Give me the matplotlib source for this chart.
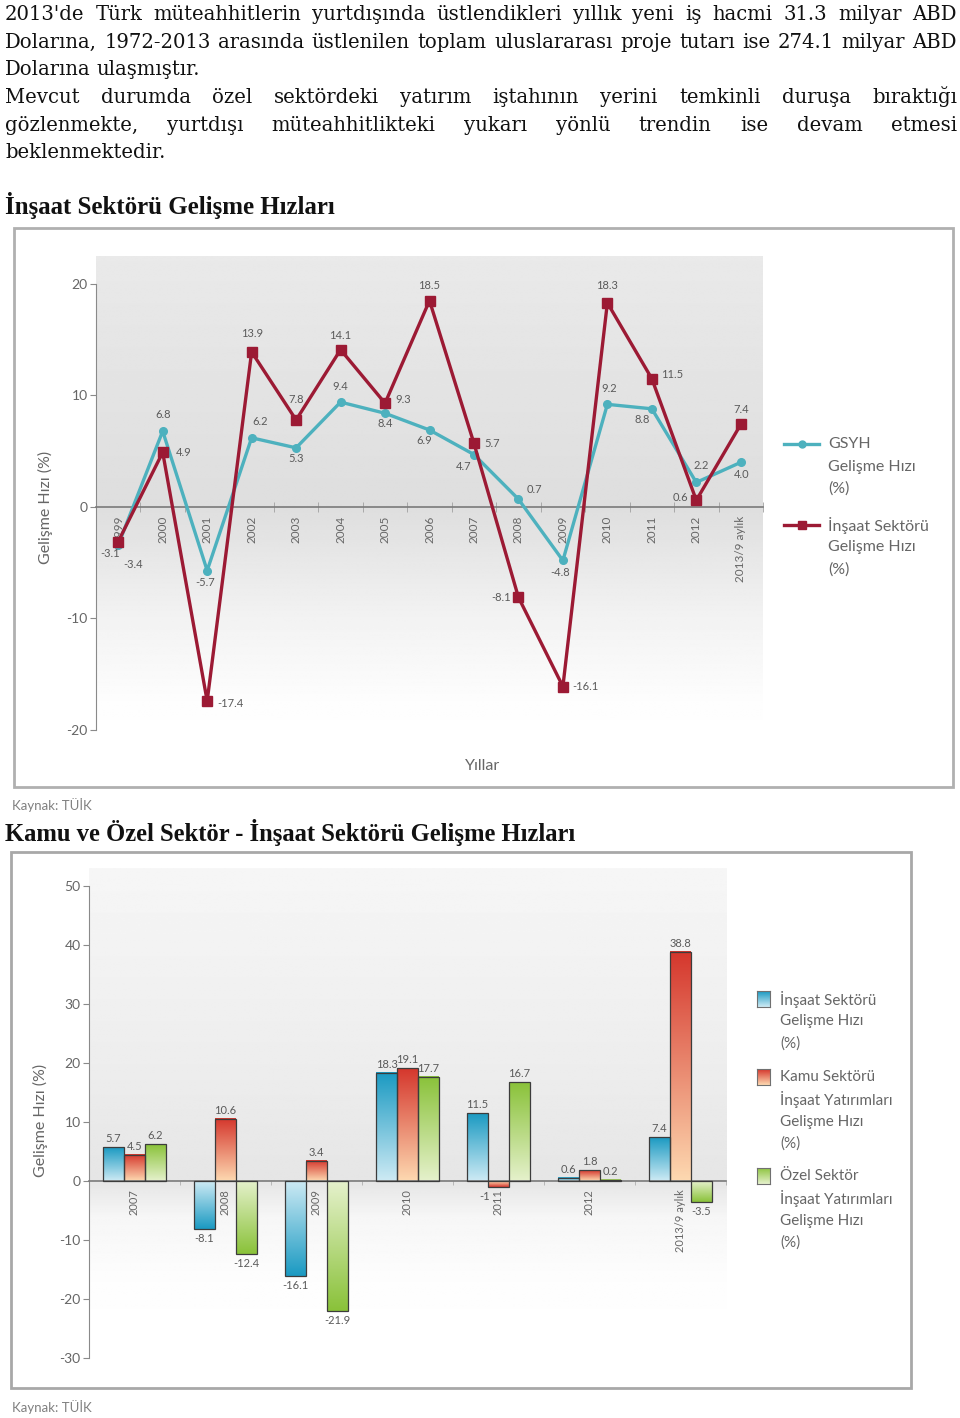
import numpy as np
import matplotlib
matplotlib.use('Agg')
import matplotlib.pyplot as plt
from matplotlib.patches import Rectangle
from matplotlib.lines import Line2D
from matplotlib.colors import to_rgb

plt.rcParams['axes.unicode_minus'] = False

# page size in pixels
W, H = 960, 1418

# chart 1 data
years1 = ['1999', '2000', '2001', '2002', '2003', '2004', '2005', '2006',
          '2007', '2008', '2009', '2010', '2011', '2012', '2013/9 aylık']
gsyh = [-3.4, 6.8, -5.7, 6.2, 5.3, 9.4, 8.4, 6.9, 4.7, 0.7, -4.8, 9.2, 8.8, 2.2, 4.0]
insaat = [-3.1, 4.9, -17.4, 13.9, 7.8, 14.1, 9.3, 18.5, 5.7, -8.1, -16.1, 18.3, 11.5, 0.6, 7.4]

# chart 2 data
years2 = ['2007', '2008', '2009', '2010', '2011', '2012', '2013/9 aylık']
insaat2 = [5.7, -8.1, -16.1, 18.3, 11.5, 0.6, 7.4]
kamu = [4.5, 10.6, 3.4, 19.1, -1, 1.8, 38.8]
ozel = [6.2, -12.4, -21.9, 17.7, 16.7, 0.2, -3.5]

# label offsets (pixels) for the line chart
gsyh_off = [(15, -20), (0, 17), (-2, -12), (8, 16), (0, -11), (0, 16), (0, -10),
            (-5, -11), (-10, -12), (16, 10), (-3, -12), (2, 16), (-10, -11), (5, 17), (1, -12)]
ins_off = [(-8, -12), (21, 0), (23, -2), (0, 18), (0, 20), (0, 14), (18, 4),
           (0, 15), (18, 0), (-17, 0), (23, 0), (0, 17), (20, 4), (-16, 3), (0, 15)]

para1 = ["2013'de Türk müteahhitlerin yurtdışında üstlendikleri yıllık yeni iş hacmi 31.3 milyar ABD",
         "Dolarına, 1972-2013 arasında üstlenilen toplam uluslararası proje tutarı ise 274.1 milyar ABD",
         "Dolarına ulaşmıştır."]
para2 = ["Mevcut durumda özel sektördeki yatırım iştahının yerini temkinli duruşa bıraktığı",
         "gözlenmekte, yurtdışı müteahhitlikteki yukarı yönlü trendin ise devam etmesi",
         "beklenmektedir."]
head1 = 'İnşaat Sektörü Gelişme Hızları'
head2 = 'Kamu ve Özel Sektör - İnşaat Sektörü Gelişme Hızları'

SERIF = 'DejaVu Serif'
HEAD = 'Liberation Serif'
SANS = ['Lato', 'DejaVu Sans']
TXT = '#5a5a5a'


def fx(px):
    return px / W


def fy(py):
    return 1 - py / H


def box(l, t, r, b):
    return [l / W, 1 - b / H, (r - l) / W, (b - t) / H]


fig = plt.figure(figsize=(W / 100, H / 100), dpi=100)
fig.patch.set_facecolor('white')
renderer = fig.canvas.get_renderer()


def fit_size(text, size, target, family=SERIF, **kw):
    probe = fig.text(0, 0, text, fontsize=size, family=family, **kw)
    w = probe.get_window_extent(renderer).width
    probe.remove()
    return size * target / w


# ---------- body text, justified ----------
body_size = min(15.5, fit_size(max(para1 + para2, key=len), 15.5, 940))


def put_line(line, ybase, justify, x0=5, x1=957):
    words = line.split(' ')
    items = [fig.text(0, fy(ybase), w, fontsize=body_size, family=SERIF,
                      va='baseline', ha='left', color='#111111') for w in words]
    widths = [t.get_window_extent(renderer).width for t in items]
    if justify and len(items) > 1:
        gap = (x1 - x0 - sum(widths)) / (len(items) - 1)
    else:
        gap = body_size * 100 / 72 * 0.3
    x = x0
    for t, w in zip(items, widths):
        t.set_x(fx(x))
        x += w + gap


baselines = [20, 48, 75, 103, 131, 158]
for i, line in enumerate(para1 + para2):
    put_line(line, baselines[i], justify=(i not in (2, 5)))

h1 = fit_size(head1, 15, 330, family=HEAD, weight='bold')
fig.text(fx(5), fy(214), head1, fontsize=h1, family=HEAD, weight='bold',
         va='baseline', color='#111111')
h2 = fit_size(head2, 15, 573, family=HEAD, weight='bold')
fig.text(fx(5), fy(841), head2, fontsize=h2, family=HEAD, weight='bold',
         va='baseline', color='#111111')

# frames
fig.add_artist(Rectangle((fx(14), fy(787)), (953 - 14) / W, (787 - 228) / H,
                         transform=fig.transFigure, fill=False, edgecolor='#b0b0b0', lw=2))
fig.add_artist(Rectangle((fx(11), fy(1388)), (911 - 11) / W, (1388 - 852) / H,
                         transform=fig.transFigure, fill=False, edgecolor='#a8a8a8', lw=2))


def background(ax, ys, levels):
    y0, y1 = ax.get_ylim()
    x0, x1 = ax.get_xlim()
    yy = np.linspace(y0, y1, 300)
    g = np.interp(yy, ys, levels)
    img = np.repeat(g[:, None], 2, axis=1)
    ax.imshow(img, extent=(x0, x1, y0, y1), origin='lower', aspect='auto',
              cmap='gray', vmin=0, vmax=1, interpolation='bilinear', zorder=0)
    ax.set_xlim(x0, x1)
    ax.set_ylim(y0, y1)


def style_axes(ax, ybounds, xlabels, xsize):
    for s in ['top', 'right']:
        ax.spines[s].set_visible(False)
    ax.spines['left'].set_color('#8a8a8a')
    ax.spines['left'].set_bounds(*ybounds)
    ax.spines['bottom'].set_position(('data', 0))
    ax.spines['bottom'].set_color('#7a7a7a')
    ax.spines['bottom'].set_linewidth(1.2)
    n = len(xlabels)
    ax.set_xticks(range(n))
    ax.set_xticklabels(xlabels, rotation=90, fontsize=xsize, color='#666666', family=SANS)
    ax.set_xticks(np.arange(0.5, n, 1), minor=True)
    ax.tick_params(axis='x', which='major', length=0, pad=6)
    ax.tick_params(axis='x', which='minor', length=7, direction='inout', color='#a0a0a0')
    ax.tick_params(axis='y', length=4, color='#8a8a8a', labelsize=10, labelcolor='#666666', pad=2)
    for t in ax.get_yticklabels():
        t.set_family(SANS)
    ax.set_facecolor('white')


# ---------- chart 1: line chart ----------
ax1 = fig.add_axes(box(96, 256, 763, 763.5))
ax1.set_xlim(-0.5, len(years1) - 0.5)
ax1.set_ylim(-23, 22.5)
background(ax1, [-23, -18, -10, 0, 22.5], [1.0, 0.995, 0.95, 0.87, 0.915])
x1 = np.arange(len(years1))
ax1.plot(x1, gsyh, color='#4db1be', lw=2.4, marker='o', ms=5.5, zorder=3)
ax1.plot(x1, insaat, color='#9c1a34', lw=2.4, marker='s', ms=6.5, zorder=4)
for i, v in enumerate(gsyh):
    ax1.annotate(f'{v:.1f}', (i, v), xytext=gsyh_off[i], textcoords='offset pixels',
                 ha='center', va='center', fontsize=8, color=TXT, family=SANS, zorder=5)
for i, v in enumerate(insaat):
    ax1.annotate(f'{v:.1f}', (i, v), xytext=ins_off[i], textcoords='offset pixels',
                 ha='center', va='center', fontsize=8, color=TXT, family=SANS, zorder=5)
ax1.set_yticks([-20, -10, 0, 10, 20])
style_axes(ax1, (-20, 20), years1, 8.5)

fig.text(fx(45), fy(507), 'Gelişme Hızı (%)', rotation=90, ha='center', va='center',
         fontsize=11.5, color='#666666', family=SANS)
fig.text(fx(483), fy(766), 'Yıllar', ha='center', va='center', fontsize=11.5,
         color='#666666', family=SANS)
fig.text(fx(12), fy(805), 'Kaynak: TÜİK', ha='left', va='center', fontsize=9.5,
         color='#808080', family=SANS)

# legend for chart 1
leg1 = [('#4db1be', 'o', 5, ['GSYH', 'Gelişme Hızı', '(%)'], 444),
        ('#9c1a34', 's', 5.5, ['İnşaat Sektörü', 'Gelişme Hızı', '(%)'], 525)]
for col, mk, ms, lines, ytop in leg1:
    fig.add_artist(Line2D([fx(784), fx(819)], [fy(ytop), fy(ytop)], transform=fig.transFigure,
                          color=col, lw=2.4))
    fig.add_artist(Line2D([fx(801.5)], [fy(ytop)], transform=fig.transFigure,
                          color=col, marker=mk, ms=ms))
    for k, s in enumerate(lines):
        fig.text(fx(828), fy(ytop + k * 22.5), s, ha='left', va='center', fontsize=11.5,
                 color='#666666', family=SANS)

# ---------- chart 2: grouped bars ----------
ax2 = fig.add_axes(box(89, 868, 726, 1382))
ax2.set_xlim(-0.5, len(years2) - 0.5)
ax2.set_ylim(-34, 53)
background(ax2, [-34, -18, -6, 0, 20, 53], [1.0, 0.995, 0.965, 0.9, 0.93, 0.965])

series = [(insaat2, '#1b9ac2', '#cdeaf4'),
          (kamu, '#d5372d', '#fdd8b0'),
          (ozel, '#8ac23a', '#e5f1cb')]
bw = 0.23
x2 = np.arange(len(years2))
lbl_over = {(1, 4): (-14, -4)}
for si, (vals, dark, light) in enumerate(series):
    bars = ax2.bar(x2 + (si - 1) * bw, vals, bw, color='none', edgecolor='#3c3c3c',
                   lw=0.9, zorder=3)
    cd, cl = np.array(to_rgb(dark)), np.array(to_rgb(light))
    for i, r in enumerate(bars.patches):
        bx, by, bwid, bh = r.get_x(), r.get_y(), r.get_width(), r.get_height()
        t = np.linspace(0, 1, 64)
        if vals[i] < 0:
            t = t[::-1]
        grad = cl[None, :] * (1 - t[:, None]) + cd[None, :] * t[:, None]
        y_lo, y_hi = min(by, by + bh), max(by, by + bh)
        ax2.imshow(grad[:, None, :], extent=(bx, bx + bwid, y_lo, y_hi), origin='lower',
                   aspect='auto', interpolation='bilinear', zorder=2)
        v = vals[i]
        dx, dy = lbl_over.get((si, i), (0, 3 if v >= 0 else -4))
        ax2.annotate(f'{v:g}', (r.get_x() + bwid / 2, v), xytext=(dx, dy),
                     textcoords='offset pixels', ha='center',
                     va='bottom' if v >= 0 else 'top', fontsize=8, color=TXT,
                     family=SANS, zorder=5)
ax2.set_xlim(-0.5, len(years2) - 0.5)
ax2.set_ylim(-34, 53)
ax2.set_yticks(range(-30, 51, 10))
style_axes(ax2, (-30, 50), years2, 8)
ax2.tick_params(axis='x', which='minor', length=3, direction='out', color='#b0b0b0')

fig.text(fx(40), fy(1120), 'Gelişme Hızı (%)', rotation=90, ha='center', va='center',
         fontsize=11.5, color='#666666', family=SANS)
fig.text(fx(12), fy(1407), 'Kaynak: TÜİK', ha='left', va='center', fontsize=9.5,
         color='#808080', family=SANS)

# legend for chart 2
leg2 = [(series[0], ['İnşaat Sektörü', 'Gelişme Hızı', '(%)'], 999),
        (series[1], ['Kamu Sektörü', 'İnşaat Yatırımları', 'Gelişme Hızı', '(%)'], 1077),
        (series[2], ['Özel Sektör', 'İnşaat Yatırımları', 'Gelişme Hızı', '(%)'], 1176)]
for (vals, dark, light), lines, ytop in leg2:
    sq = fig.add_axes(box(757, ytop - 8, 770, ytop + 8))
    cd, cl = np.array(to_rgb(dark)), np.array(to_rgb(light))
    t = np.linspace(0, 1, 32)
    grad = cl[None, :] * (1 - t[:, None]) + cd[None, :] * t[:, None]
    sq.imshow(grad[:, None, :], origin='lower', aspect='auto', interpolation='bilinear')
    sq.set_xticks([])
    sq.set_yticks([])
    for s in sq.spines.values():
        s.set_color('#707070')
        s.set_linewidth(0.8)
    for k, s in enumerate(lines):
        fig.text(fx(780), fy(ytop + k * 22.3), s, ha='left', va='center', fontsize=11,
                 color='#666666', family=SANS)

fig.savefig('out.png', dpi=100, facecolor='white')
